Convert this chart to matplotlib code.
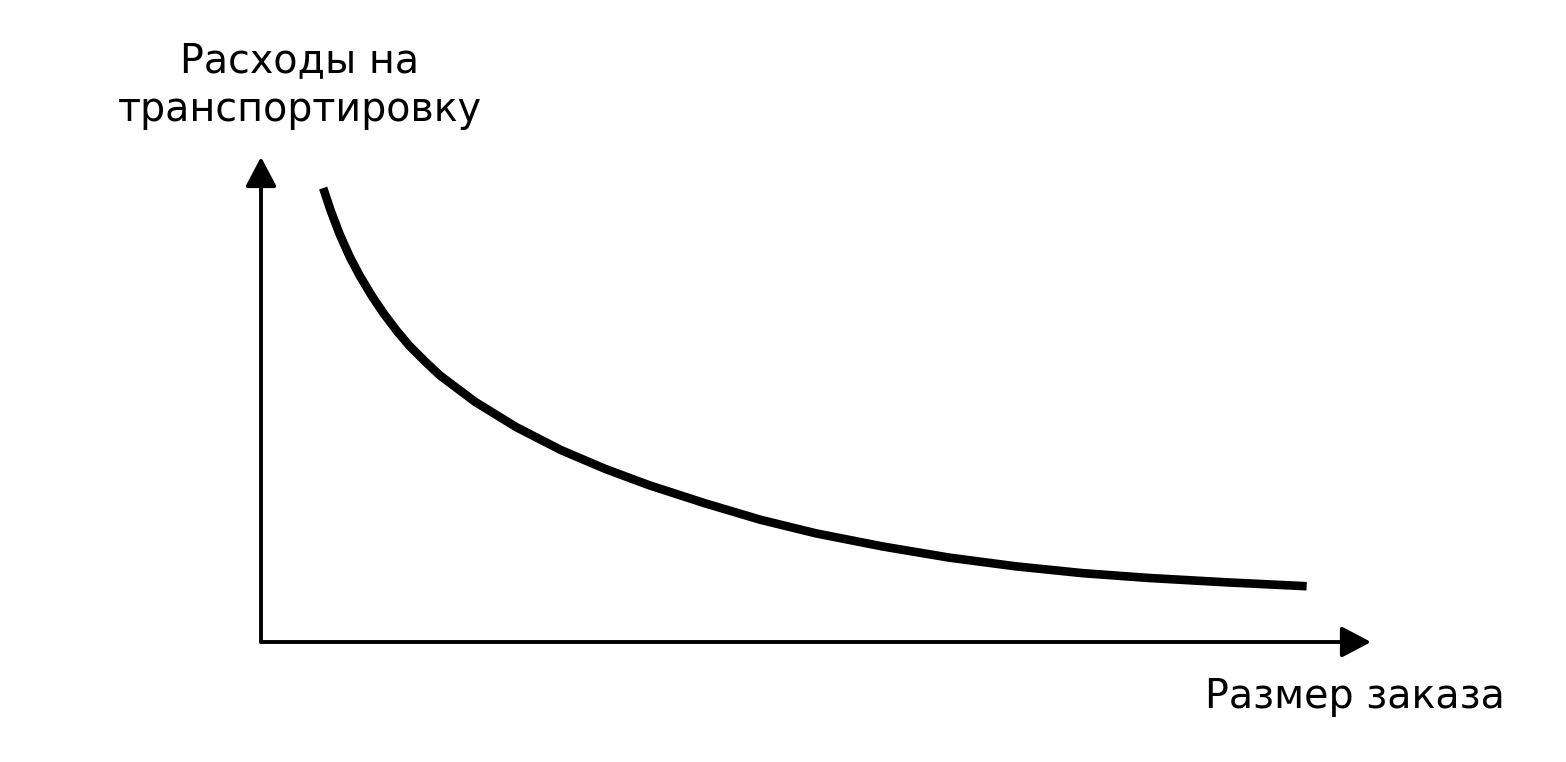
import numpy as np
import matplotlib.pyplot as plt

# transport cost vs order size (arbitrary units 0..100)
order_size = [5.6, 6.3, 7.1, 8.0, 8.9, 10.0, 11.0, 12.25, 13.4, 14.8, 16.1, 19.3,
              23.0, 27.0, 31.0, 35.0, 40.0, 45.0, 50.0, 56.0, 62.0, 68.0, 74.0,
              80.0, 87.0, 94.2]
transport_cost = [93.6, 88.8, 84.0, 79.4, 75.5, 71.3, 67.9, 64.1, 61.0, 57.8, 55.0, 49.5,
                  44.3, 39.6, 35.7, 32.3, 28.6, 25.2, 22.4, 19.7, 17.4, 15.6, 14.2,
                  13.2, 12.3, 11.5]

y_title = ["Расходы на", "транспортировку"]
x_title = "Размер заказа"

plt.rcParams["font.family"] = ["DejaVu Sans"]

W, H = 1566, 762
fig = plt.figure(figsize=(W / 100, H / 100), dpi=100)
fig.patch.set_facecolor("white")

# axes box: origin at (261, 642) px, arrows end at y=157 and x=1371
ax = fig.add_axes([261 / W, (H - 642) / H, (1371 - 261) / W, (642 - 157) / H])
ax.set_xlim(0, 100)
ax.set_ylim(0, 100)
ax.axis("off")

arrow = dict(arrowstyle="-|>,head_length=18,head_width=9.5", mutation_scale=1,
             color="black", lw=2.8, shrinkA=0, shrinkB=0)
ax.annotate("", xy=(0, 1), xytext=(0, 0), xycoords="axes fraction", arrowprops=arrow)
ax.annotate("", xy=(1, 0), xytext=(0, 0), xycoords="axes fraction", arrowprops=arrow)

ax.plot(order_size, transport_cost, color="black", lw=6.2,
        solid_capstyle="butt", solid_joinstyle="round", clip_on=False)

fs = 28.5
fig.text(300 / W, (H - 72) / H, y_title[0], ha="center", va="baseline", fontsize=fs)
fig.text(300 / W, (H - 121) / H, y_title[1], ha="center", va="baseline", fontsize=fs)
fig.text(1355 / W, (H - 708) / H, x_title, ha="center", va="baseline", fontsize=fs)

fig.savefig("out.png", dpi=100, facecolor="white")
